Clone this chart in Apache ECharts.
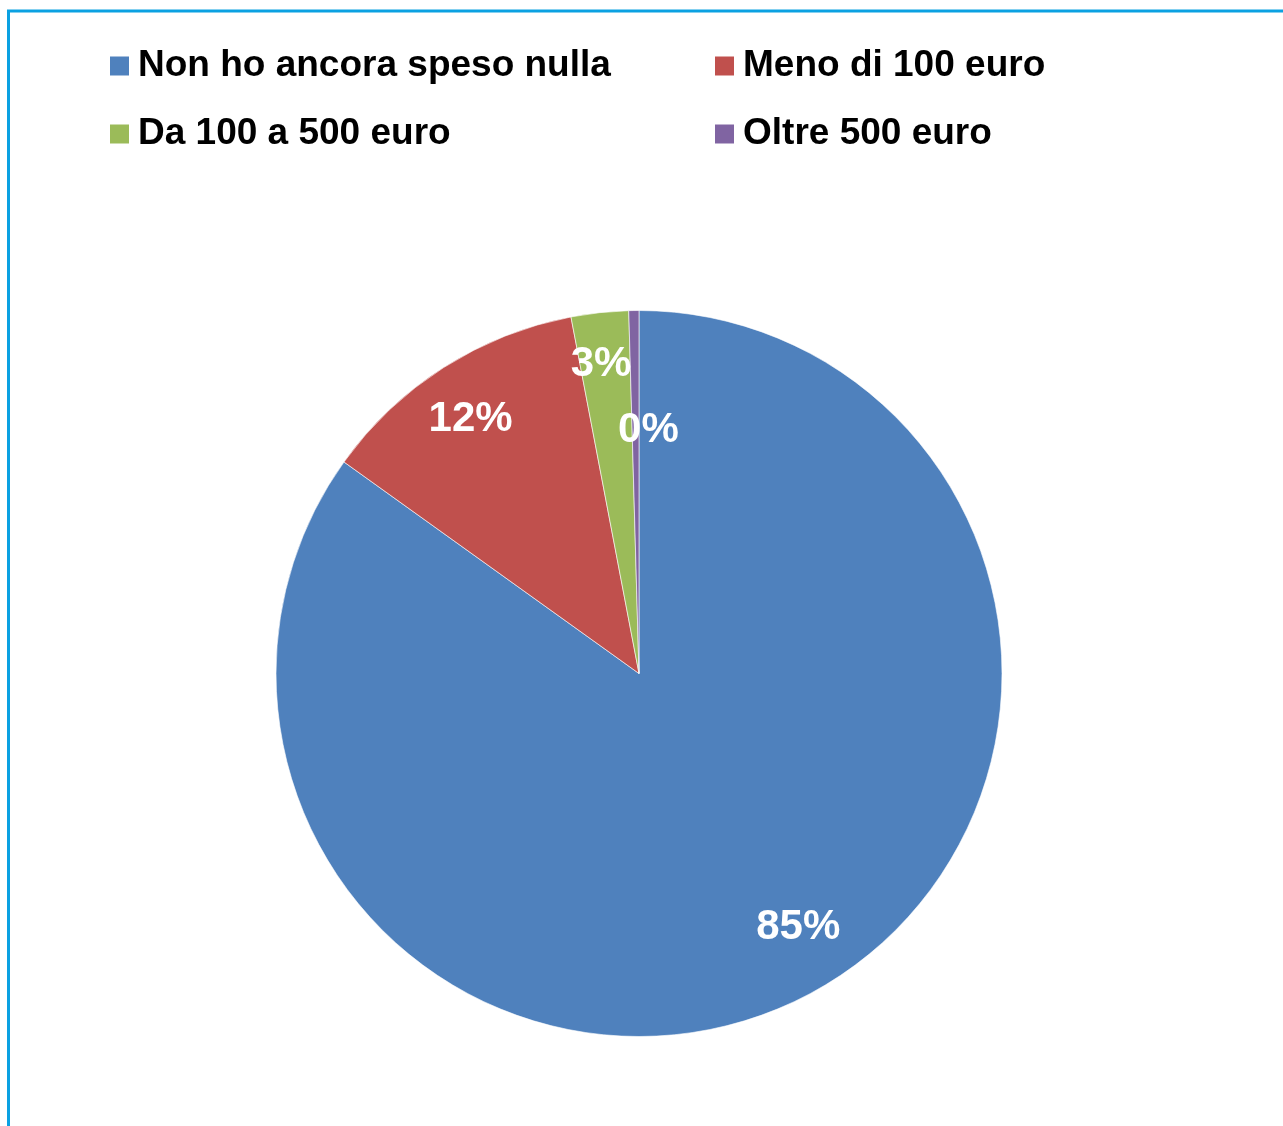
<!DOCTYPE html>
<html>
<head>
<meta charset="utf-8">
<style>
  html, body { margin: 0; padding: 0; background: #fff; }
  #chart { width: 1283px; height: 1126px; }
</style>
<script src="https://cdn.jsdelivr.net/npm/echarts@6/dist/echarts.min.js"></script>
</head>
<body>
<div id="chart"></div>
<script>
// Spending categories and their share of respondents (%)
const categories = ['Non ho ancora speso nulla', 'Meno di 100 euro', 'Da 100 a 500 euro', 'Oltre 500 euro'];
const shares = [84.9, 12.1, 2.55, 0.45];
const colors = ['#4F81BD', '#C0504D', '#9BBB59', '#8064A2'];

// Nudges that move each percentage label from the default inside spot
const labelNudge = [[75, 90], [-69, -99], [-18, -126], [12, -59]];

const chart = echarts.init(document.getElementById('chart'), null, { renderer: 'canvas' });

const legendText = {
  fontFamily: 'Liberation Sans, Arial, sans-serif',
  fontWeight: 'bold',
  fontSize: 37,
  lineHeight: 40,
  color: '#000',
  padding: [0, 0, 0, 4]
};

const legendBase = {
  orient: 'vertical',
  top: 46,
  padding: 0,
  itemWidth: 19,
  itemHeight: 19,
  itemGap: 28,
  icon: 'rect',
  itemStyle: { borderWidth: 0 },
  textStyle: legendText
};

chart.setOption({
  animation: false,
  color: colors,
  graphic: [{
    type: 'rect',
    shape: { x: 8.5, y: 11, width: 1400, height: 1300 },
    style: { fill: 'none', stroke: '#0BA1E2', lineWidth: 3 },
    silent: true
  }],
  legend: [
    Object.assign({}, legendBase, { left: 110, data: [categories[0], categories[2]] }),
    Object.assign({}, legendBase, { left: 715, data: [categories[1], categories[3]] })
  ],
  series: [{
    type: 'pie',
    center: [639, 673.5],
    radius: 363,
    startAngle: 90,
    clockwise: true,
    avoidLabelOverlap: false,
    itemStyle: { borderColor: '#ffffff', borderWidth: 0.6 },
    label: {
      show: true,
      position: 'inside',
      formatter: p => Math.round(p.value) + '%',
      fontFamily: 'Liberation Sans, Arial, sans-serif',
      fontWeight: 'bold',
      fontSize: 42,
      color: '#fff'
    },
    labelLine: { show: false },
    labelLayout: p => ({ dx: labelNudge[p.dataIndex][0], dy: labelNudge[p.dataIndex][1] }),
    emphasis: { disabled: true },
    data: categories.map((name, i) => ({ name, value: shares[i] }))
  }]
});
</script>
</body>
</html>
